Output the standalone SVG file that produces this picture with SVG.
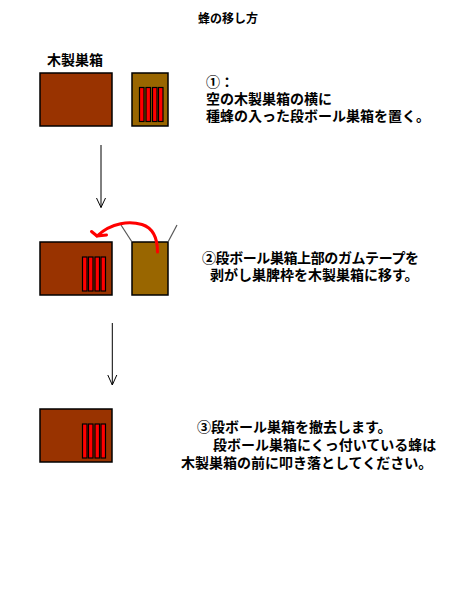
<svg xmlns="http://www.w3.org/2000/svg" width="450" height="600" viewBox="0 0 450 600">
<style>
.wood{fill:#993300;stroke:#000;stroke-width:1.5}
.card{fill:#996600;stroke:#000;stroke-width:1.5}
.frame{fill:#ff0000;stroke:#000;stroke-width:1.2}
.t{font-family:"Liberation Sans","Noto Sans CJK JP",sans-serif;font-size:14px;font-weight:bold;fill:#000}
.title{font-family:"Liberation Sans","Noto Sans CJK JP",sans-serif;font-size:12px;font-weight:bold;fill:#000}
.arr{stroke:#000;stroke-width:1;fill:none}
.flap{stroke:#555;stroke-width:1.2;fill:none}
.red{stroke:#ff0000;stroke-width:3;fill:none;stroke-linecap:round;stroke-linejoin:round}
</style>
<rect width="450" height="600" fill="#fff"/>
<text class="title" x="198" y="23">蜂の移し方</text>

<g id="step1">
<text class="t" x="47" y="65">木製巣箱</text>
<g id="woodbox1"><rect class="wood" x="40" y="73" width="72" height="53"/></g>
<g id="cardbox1">
<rect class="card" x="132" y="73" width="36" height="53"/>
<rect class="frame" x="139.5" y="87.5" width="4.5" height="34"/>
<rect class="frame" x="146" y="87.5" width="4.5" height="34"/>
<rect class="frame" x="152.5" y="87.5" width="4.5" height="34"/>
<rect class="frame" x="158.5" y="87.5" width="4.5" height="34"/>
</g>
<text class="t" x="206" y="87">①：</text>
<text class="t" x="206" y="104">空の木製巣箱の横に</text>
<text class="t" x="206" y="121">種蜂の入った段ボール巣箱を置く。</text>
</g>

<g id="step2">
<g id="woodbox2">
<rect class="wood" x="40" y="242" width="72" height="53"/>
<rect class="frame" x="82.5" y="257" width="4.5" height="34"/>
<rect class="frame" x="88.5" y="257" width="4.5" height="34"/>
<rect class="frame" x="95" y="257" width="4.5" height="34"/>
<rect class="frame" x="101" y="257" width="4.5" height="34"/>
</g>
<g id="cardbox2">
<rect class="card" x="132" y="242" width="36" height="53"/>
<line class="flap" x1="132" y1="242" x2="121" y2="225"/>
<line class="flap" x1="168" y1="242" x2="177" y2="225"/>
</g>
<text class="t" x="202" y="263" textLength="217" lengthAdjust="spacing">②段ボール巣箱上部のガムテープを</text>
<text class="t" x="210" y="280">剥がし巣脾枠を木製巣箱に移す。</text>
</g>

<g id="step3">
<g id="woodbox3">
<rect class="wood" x="40" y="409" width="72" height="53"/>
<rect class="frame" x="82.5" y="424" width="4.5" height="34"/>
<rect class="frame" x="88.5" y="424" width="4.5" height="34"/>
<rect class="frame" x="95" y="424" width="4.5" height="34"/>
<rect class="frame" x="101" y="424" width="4.5" height="34"/>
</g>
<text class="t" x="197" y="432">③段ボール巣箱を撤去します。</text>
<text class="t" x="213" y="450">段ボール巣箱にくっ付いている蜂は</text>
<text class="t" x="181" y="468">木製巣箱の前に叩き落としてください。</text>
</g>

<g id="connectors">
<line class="arr" x1="101" y1="145" x2="101" y2="207.5"/>
<polyline class="arr" points="96.5,198 101,207.5 105.5,198"/>
<line class="arr" x1="112.3" y1="323" x2="112.3" y2="385"/>
<polyline class="arr" points="107.8,375 112.3,385 116.8,375"/>
<path class="red" d="M157.5,252 C157.5,238 153,228 142,224.5 C130,221 112,222 97,236"/>
<polyline class="red" points="91.5,231.5 97,236 106.5,235"/>
</g>
</svg>
